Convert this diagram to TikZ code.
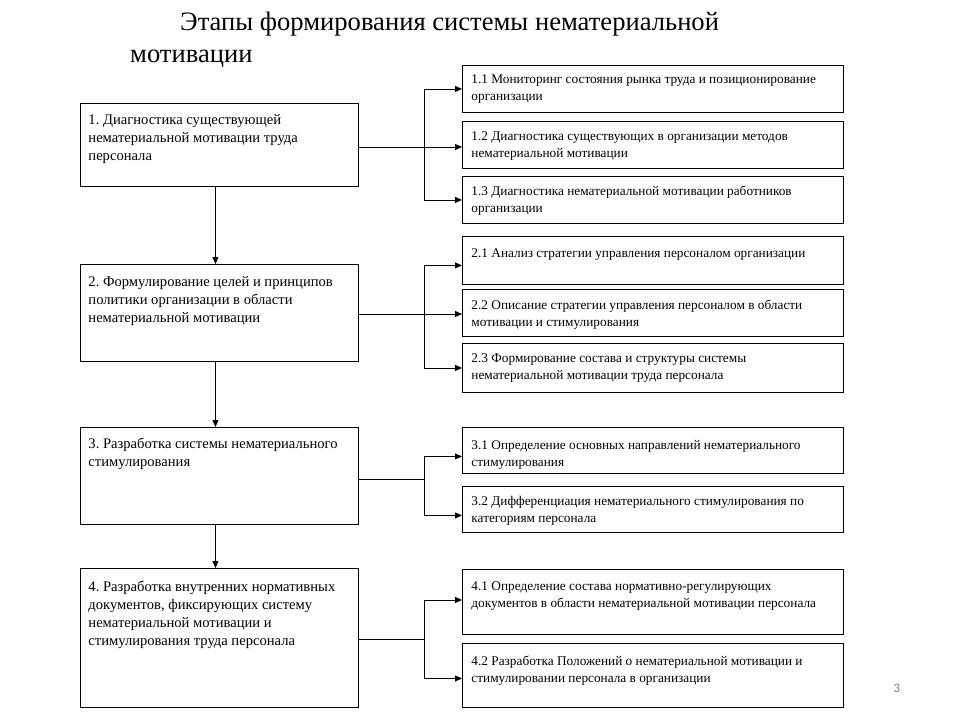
\documentclass[tikz,border=0pt]{standalone}
\usepackage{fontspec}
\setmainfont{Liberation Serif}
\newfontfamily\pagenumfont{Carlito}
\usetikzlibrary{arrows.meta}
\frenchspacing
% width, total height, top gap, text
\newcommand{\bxt}[4]{\parbox[t][#2][t]{#1}{\vspace*{#3}\raggedright\strut #4}}
\begin{document}
\begin{tikzpicture}[x=1pt,y=-1pt,
  lbox/.style={draw, line width=0.9pt, anchor=north west, inner xsep=8pt, inner ysep=0pt,
    font=\fontsize{14.6}{18}\selectfont},
  rbox/.style={draw, line width=0.9pt, anchor=north west, inner xsep=9pt, inner ysep=0pt,
    font=\fontsize{13.3}{17}\selectfont},
  ttl/.style={anchor=base west, inner sep=0pt, font=\fontsize{26.6}{32}\selectfont},
  conn/.style={line width=0.9pt},
  arr/.style={line width=0.9pt, -{Triangle[length=7pt,width=6pt]}}]
\useasboundingbox (0,0) rectangle (960,720);
\fill[white] (0,0) rectangle (960,720);

% title
\node[ttl] (t1) at (180,30) {Этапы формирования системы нематериальной};
\node[ttl] (t2) at (130,62) {мотивации};

% left boxes (width 278)
\node[lbox] (b1) at (80,103) {\bxt{262pt}{83pt}{8.5pt}{1. Диагностика существующей\\ нематериальной мотивации труда\\ персонала}};
\node[lbox] (b2) at (80,264) {\bxt{262pt}{97pt}{9.5pt}{2. Формулирование целей и принципов\\ политики организации в области\\ нематериальной мотивации}};
\node[lbox] (b3) at (80,427) {\bxt{262pt}{97pt}{8.5pt}{3. Разработка системы нематериального\\ стимулирования}};
\node[lbox] (b4) at (80,568) {\bxt{262pt}{139pt}{10.5pt}{4. Разработка внутренних нормативных\\ документов, фиксирующих систему\\ нематериальной мотивации и\\ стимулирования труда персонала}};

% right boxes (width 381)
\node[rbox] (s11) at (462,65) {\bxt{363pt}{47pt}{6pt}{1.1 Мониторинг состояния рынка труда и позиционирование\\ организации}};
\node[rbox] (s12) at (462,121) {\bxt{363pt}{47pt}{7pt}{1.2 Диагностика существующих в организации методов\\ нематериальной мотивации}};
\node[rbox] (s13) at (462,176) {\bxt{363pt}{47pt}{7pt}{1.3 Диагностика нематериальной мотивации работников\\ организации}};

\node[rbox] (s21) at (462,236) {\bxt{363pt}{48pt}{9pt}{2.1 Анализ стратегии управления персоналом организации}};
\node[rbox] (s22) at (462,289) {\bxt{363pt}{47pt}{8pt}{2.2 Описание стратегии управления персоналом в области\\ мотивации и стимулирования}};
\node[rbox] (s23) at (462,343) {\bxt{363pt}{49pt}{7pt}{2.3 Формирование состава и структуры системы\\ нематериальной мотивации труда персонала}};

\node[rbox] (s31) at (462,427) {\bxt{363pt}{46pt}{10pt}{3.1 Определение основных направлений нематериального\\ стимулирования}};
\node[rbox] (s32) at (462,486) {\bxt{363pt}{46pt}{7pt}{3.2 Дифференциация нематериального стимулирования по\\ категориям персонала}};

\node[rbox] (s41) at (462,569) {\bxt{363pt}{65pt}{9.5pt}{4.1 Определение состава нормативно-регулирующих\\ документов в области нематериальной мотивации персонала}};
\node[rbox] (s42) at (462,643) {\bxt{363pt}{64pt}{10pt}{4.2 Разработка Положений о нематериальной мотивации и\\ стимулировании персонала в организации}};

% vertical arrows
\draw[arr] ([xshift=-4pt]b1.south) -- ([xshift=-4pt]b2.north);
\draw[arr] ([xshift=-4pt]b2.south) -- ([xshift=-4pt]b3.north);
\draw[arr] ([xshift=-4pt]b3.south) -- ([xshift=-4pt]b4.north);

% group 1
\coordinate (j1) at (424,147);
\draw[conn] (b1.east |- j1) -- (j1);
\draw[arr] (j1) |- (s11.west);
\draw[arr] (j1) -- (s12.west |- j1);
\draw[arr] (j1) |- (s13.west);

% group 2
\coordinate (j2) at (424,314);
\draw[conn] (b2.east |- j2) -- (j2);
\draw[arr] (j2) |- ([yshift=-5pt]s21.west);
\draw[arr] (j2) -- (s22.west |- j2);
\draw[arr] (j2) |- (s23.west);

% group 3
\coordinate (j3) at (424,479);
\draw[conn] (b3.east |- j3) -- (j3);
\draw[arr] (j3) |- ([yshift=-6pt]s31.west);
\draw[arr] (j3) |- ([yshift=-6pt]s32.west);

% group 4
\coordinate (j4) at (424,639);
\draw[conn] (b4.east |- j4) -- (j4);
\draw[arr] (j4) |- ([yshift=2pt]s41.west);
\draw[arr] (j4) |- ([yshift=-3pt]s42.west);

% page number
\node[anchor=center, inner sep=0pt, text=black!50, font=\pagenumfont\fontsize{13}{15}\selectfont] (pn) at (897,688) {3};
\end{tikzpicture}
\end{document}
